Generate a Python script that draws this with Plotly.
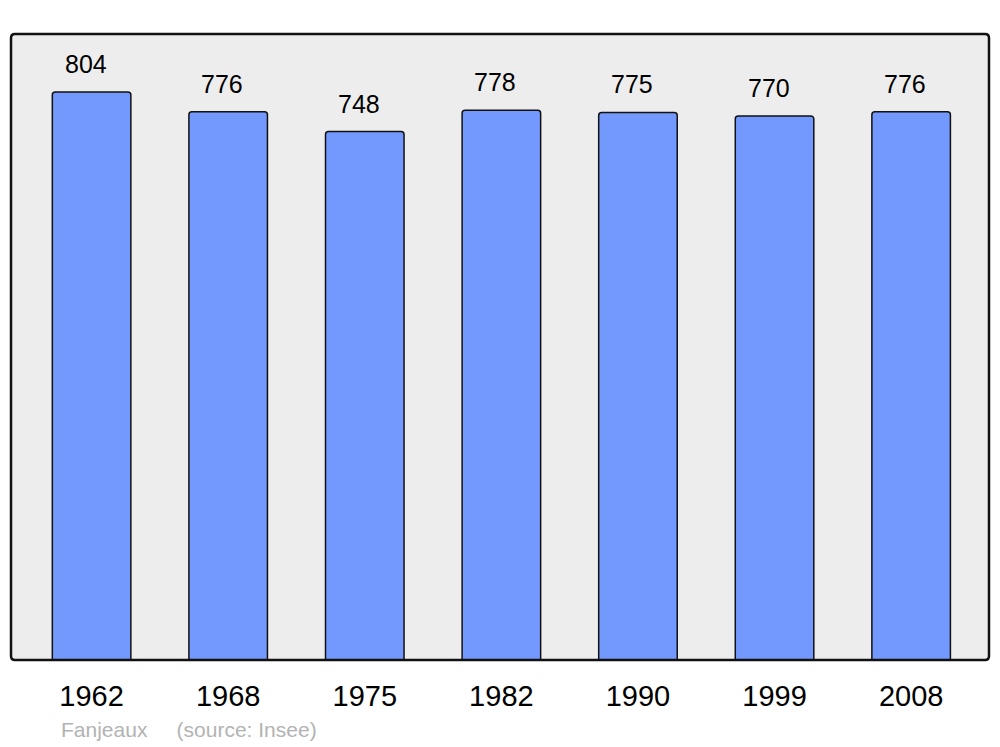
import plotly.graph_objects as go

years = ["1962", "1968", "1975", "1982", "1990", "1999", "2008"]
population = [804, 776, 748, 778, 775, 770, 776]
title_note = "Fanjeaux\u00a0\u00a0\u00a0\u00a0 (source: Insee)"

fig = go.Figure()
fig.add_trace(go.Bar(
    x=years, y=population, width=0.575,
    marker=dict(color="#7399FF", line=dict(color="#111111", width=1.5), cornerradius=3),
    hoverinfo="x+y",
))

for i, v in enumerate(population):
    fig.add_annotation(x=i, y=v, xref="x", yref="y", text=str(v), showarrow=False,
                       yanchor="middle", yshift=28, xshift=-6,
                       font=dict(family="Liberation Sans, Arial, sans-serif", size=25, color="#000"))

fig.add_annotation(x=0.049, y=-0.1118, xref="paper", yref="paper", text=title_note,
                   showarrow=False, xanchor="left", yanchor="middle",
                   font=dict(family="Liberation Sans, Arial, sans-serif", size=21, color="#b3b3b3"))

# rounded frame
rx, ry = 4 / 978, 4 / 626
path = (f"M {rx},0 L {1-rx},0 Q 1,0 1,{ry} L 1,{1-ry} Q 1,1 {1-rx},1 "
        f"L {rx},1 Q 0,1 0,{1-ry} L 0,{ry} Q 0,0 {rx},0 Z")
fig.add_shape(type="path", xref="paper", yref="paper", path=path,
              line=dict(color="#111111", width=2.5), layer="above")

fig.update_layout(
    width=1000, height=747,
    margin=dict(l=11, r=11, t=34, b=87),
    paper_bgcolor="white", plot_bgcolor="#EDEDED",
    showlegend=False,
    font=dict(family="Liberation Sans, Arial, sans-serif"),
    xaxis=dict(type="category", range=[-0.59, 6.57], showgrid=False, zeroline=False,
               showline=False, ticks="outside", ticklen=10, tickcolor="rgba(0,0,0,0)",
               tickfont=dict(size=29, color="#000")),
    yaxis=dict(range=[0, 886], showgrid=False, zeroline=False, showline=False,
               showticklabels=False, ticks=""),
)

fig.write_html("out.html", config={"displayModeBar": False},
               post_script="document.body.style.margin='0';")
